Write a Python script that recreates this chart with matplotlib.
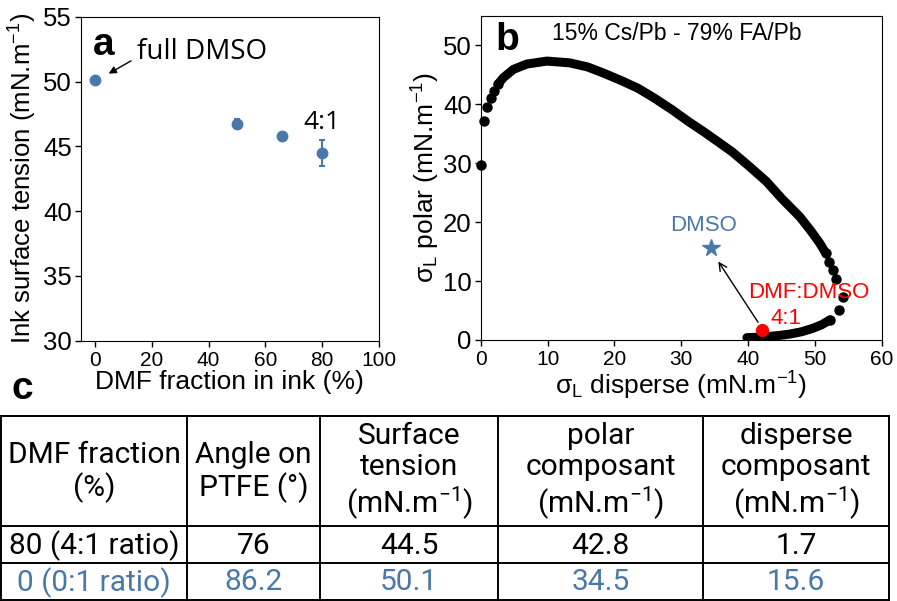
import numpy as np
import matplotlib.pyplot as plt

plt.rcParams['font.family'] = ['Liberation Sans', 'DejaVu Sans']
plt.rcParams['mathtext.default'] = 'regular'

# panel a: ink surface tension vs DMF fraction
dmf_frac = [0, 50, 66, 80]
tension = [50.1, 46.75, 45.8, 44.5]
tension_err = [0.0, 0.35, 0.15, 1.0]

# panel b: wetting envelope
env_x = [0.0, 0.5, 1.0, 1.5, 2.0, 2.6, 3.4, 4.9, 6.9, 9.9, 13.3, 16.0, 18.5, 21.0,
         23.5, 26.0, 28.8, 31.0, 33.5, 35.5, 37.6, 40.0, 42.7, 45.0, 47.7, 49.3,
         50.7, 51.6, 52.0, 52.6, 53.1, 54.1, 53.6, 52.2, 51.0, 49.7, 48.0, 46.2,
         44.5, 42.7, 41.2, 39.8]
env_y = [29.6, 37.1, 39.5, 41.1, 42.3, 43.4, 44.5, 45.9, 46.8, 47.3, 47.0, 46.3,
         45.2, 44.0, 42.7, 41.0, 38.9, 37.1, 35.2, 33.6, 31.9, 29.6, 26.9, 24.0,
         20.9, 18.6, 16.4, 14.7, 13.3, 11.9, 10.3, 7.3, 5.1, 3.4, 2.6, 2.0, 1.4,
         1.0, 0.75, 0.56, 0.45, 0.4]
dmso_pt = (34.5, 15.6)
mix_pt = (42.1, 1.75)

# panel c: table
col_heads = ['DMF fraction\n(%)', 'Angle on\nPTFE (°)', 'Surface\ntension\n(mN.m$^{-1}$)',
             'polar\ncomposant\n(mN.m$^{-1}$)', 'disperse\ncomposant\n(mN.m$^{-1}$)']
row_41 = ['80 (4:1 ratio)', '76', '44.5', '42.8', '1.7']
row_01 = ['0 (0:1 ratio)', '86.2', '50.1', '34.5', '15.6']

blue = '#4a78a9'

fig = plt.figure(figsize=(8.97, 6.01), dpi=100)

# ---- a ----
ax = fig.add_axes([0.0903, 0.4331, 0.3319, 0.5391])
ax.errorbar(dmf_frac, tension, yerr=tension_err, fmt='o', color=blue, ms=7.5,
            capsize=2.5, elinewidth=1.5, capthick=1.5)
ax.set_xlim(-5, 100)
ax.set_ylim(30, 55)
ax.set_xticks(range(0, 101, 20))
ax.set_yticks(range(30, 56, 5))
ax.tick_params(axis='x', labelsize=15, length=4.5, width=1, pad=3)
ax.tick_params(axis='y', labelsize=18.5, length=4.5, width=1, pad=2)
ax.set_xlabel('DMF fraction in ink (%)', fontsize=19, labelpad=0)
ax.set_ylabel('Ink surface tension (mN.m$^{-1}$)', fontsize=18.5, labelpad=3)
ax.text(0.077, 0.913, 'a', transform=ax.transAxes, fontsize=28, fontweight='bold',
        ha='center', va='center')
ax.annotate('', xy=(3.9, 50.5), xytext=(13.5, 51.7),
            arrowprops=dict(arrowstyle='-|>', color='black', lw=1, mutation_scale=11))
ax.text(14.7, 52.3, 'full DMSO', fontsize=20, family='Open Sans', ha='left', va='center')
ax.text(80, 46.8, '4:1', fontsize=19, family='Open Sans', ha='center', va='center')

# ---- b ----
bx = fig.add_axes([0.5359, 0.4343, 0.4474, 0.5396])
# dense parts of the envelope as a thick line, sparse ends as single dots
bx.plot(env_x[5:28], env_y[5:28], color='black', lw=6.5, solid_capstyle='round',
        solid_joinstyle='round')
bx.plot(env_x[33:], env_y[33:], color='black', lw=6.5, solid_capstyle='round',
        solid_joinstyle='round')
bx.plot(env_x[:6], env_y[:6], 'o', color='black', ms=6.5, clip_on=False)
bx.plot(env_x[27:34], env_y[27:34], 'o', color='black', ms=6.5, clip_on=False)
bx.plot(*dmso_pt, '*', color=blue, ms=13)
bx.plot(*mix_pt, 'o', color='red', ms=8.5)
bx.annotate('', xy=(35.3, 13.7), xytext=(41.7, 2.6),
            arrowprops=dict(arrowstyle='->', color='black', lw=1, mutation_scale=14))
bx.set_xlim(0, 60)
bx.set_ylim(0, 55)
bx.set_xticks(range(0, 61, 10))
bx.set_yticks(range(0, 51, 10))
bx.tick_params(axis='x', labelsize=15, length=4.5, width=1, pad=3)
bx.tick_params(axis='y', labelsize=18.5, length=4.5, width=1, pad=2)
bx.set_xlabel('σ$_L$ disperse (mN.m$^{-1}$)', fontsize=19, labelpad=0)
bx.set_ylabel('σ$_L$ polar (mN.m$^{-1}$)', fontsize=19, labelpad=1)
bx.text(0.066, 0.925, 'b', transform=bx.transAxes, fontsize=28, fontweight='bold',
        ha='center', va='center')
bx.text(0.488, 0.946, '15% Cs/Pb - 79% FA/Pb', transform=bx.transAxes, fontsize=16.5,
        ha='center', va='center')
bx.text(33.3, 19.4, 'DMSO', color=blue, fontsize=16, ha='center', va='center')
bx.text(49.1, 8.0, 'DMF:DMSO', color='red', fontsize=16, ha='center', va='center')
bx.text(45.7, 3.7, '4:1', color='red', fontsize=16, ha='center', va='center')

# ---- c (table drawn in pixel coords) ----
tx = fig.add_axes([0, 0, 1, 1])
tx.set_xlim(0, 897)
tx.set_ylim(601, 0)
tx.axis('off')
fig.text(0.025, 0.353, 'c', fontsize=28, fontweight='bold', ha='center', va='center')

col_edges = [1, 187, 320, 498, 703, 889]
row_edges = [416, 526, 563, 600]
for yy in row_edges:
    tx.plot([col_edges[0], col_edges[-1]], [yy, yy], color='black', lw=1.4)
for xx in col_edges:
    tx.plot([xx, xx], [row_edges[0], row_edges[-1]], color='black', lw=1.4)

rows = [col_heads, row_41, row_01]
colors = ['black', 'black', blue]
for r, (cells, c) in enumerate(zip(rows, colors)):
    yc = (row_edges[r] + row_edges[r + 1]) / 2
    for k, s in enumerate(cells):
        xc = (col_edges[k] + col_edges[k + 1]) / 2
        tx.text(xc, yc + 1, s, color=c, fontsize=21.5, family='Roboto', ha='center',
                va='center', linespacing=1.15)

fig.savefig('out.png', dpi=100)
